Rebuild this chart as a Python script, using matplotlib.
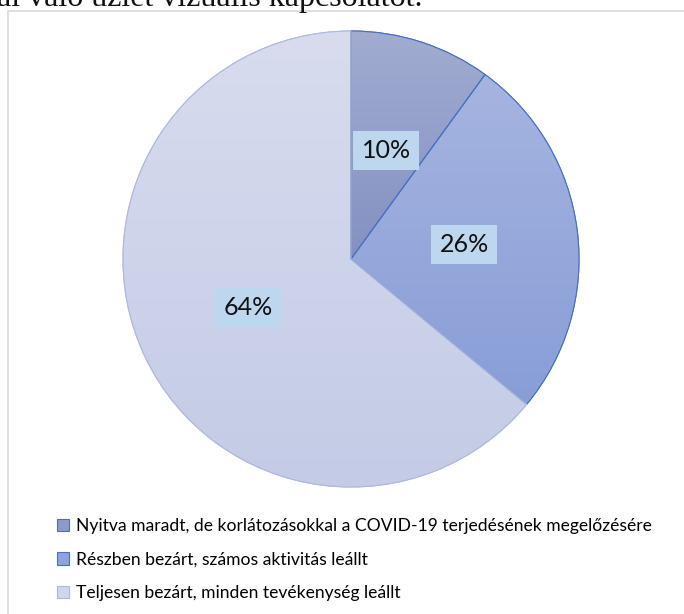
import numpy as np
import matplotlib.pyplot as plt
import matplotlib.patches as mpatches
from matplotlib.colors import to_rgb

# share of firms by operating status
labels = [
    'Nyitva maradt, de korlátozásokkal a COVID-19 terjedésének megelőzésére',
    'Részben bezárt, számos aktivitás leállt',
    'Teljesen bezárt, minden tevékenység leállt',
]
shares = [10, 26, 64]

# gradient fills (top, bottom) and outline per slice
grad_top = ['#A2ACD1', '#A6B4E0', '#D8DCEE']
grad_bottom = ['#8391C2', '#889ED7', '#C3CBE6']
mid_colors = ['#8D9AC9', '#90A4DC', '#D0D6EC']
edge_colors = ['#4A6FBF', '#4472C4', '#AEB9DF']

W, H = 684, 614
fig = plt.figure(figsize=(W / 100, H / 100), dpi=100)
ax = fig.add_axes([0, 0, 1, 1])

cx, cy, r = 351, H - 259, 228

wedges, _, autotexts = ax.pie(
    shares, center=(cx, cy), radius=r, startangle=90, counterclock=False,
    colors=mid_colors, autopct='%1.0f%%', pctdistance=0.5, frame=True,
    wedgeprops=dict(linewidth=0.8),
    textprops=dict(fontsize=18, family='Lato', color='#111111'),
)

for i, w in enumerate(wedges):
    w.set_edgecolor(edge_colors[i])
    path = w.get_path()
    ext = path.get_extents()
    t, b = np.array(to_rgb(grad_top[i])), np.array(to_rgb(grad_bottom[i]))
    f = np.linspace(0, 1, 256)[:, None]
    img = (t * (1 - f) + b * f)[:, None, :]
    im = ax.imshow(img, extent=(ext.x0, ext.x1, ext.y0, ext.y1),
                   origin='upper', aspect='auto', zorder=w.get_zorder() + 0.1 + i * 0.01)
    im.set_clip_path(w)
    ax.add_patch(mpatches.PathPatch(path, facecolor='none', edgecolor=edge_colors[i],
                                    linewidth=0.8, zorder=w.get_zorder() + 0.2 + i * 0.01))

for t in autotexts:
    t.set_zorder(5)
    t.set_bbox(dict(boxstyle='square,pad=0.33', facecolor='#BDD7EE', edgecolor='none'))

# chart area border
ax.add_patch(mpatches.Rectangle((8, -20), 720, H - 11 + 20, facecolor='none',
                                edgecolor='#D9D9D9', linewidth=1.2, zorder=0))

# running document text above the chart
ax.text(-3, H - 6, 'al való üzlet vizuális kapcsolatot.', family='Liberation Serif',
        fontsize=23, va='baseline', ha='left', color='#111111')

leg = ax.legend(wedges, labels, loc='upper left', bbox_to_anchor=(57 / W, 1 - 518 / H),
                bbox_transform=fig.transFigure, frameon=False,
                prop=dict(family='Lato', size=12.6), handlelength=0.7, handleheight=0.7,
                handletextpad=0.4, labelspacing=1.0, borderaxespad=0, borderpad=0)

ax.set_xlim(0, W)
ax.set_ylim(0, H)
ax.set_aspect('equal')
ax.axis('off')

fig.savefig('out.png', dpi=100)
